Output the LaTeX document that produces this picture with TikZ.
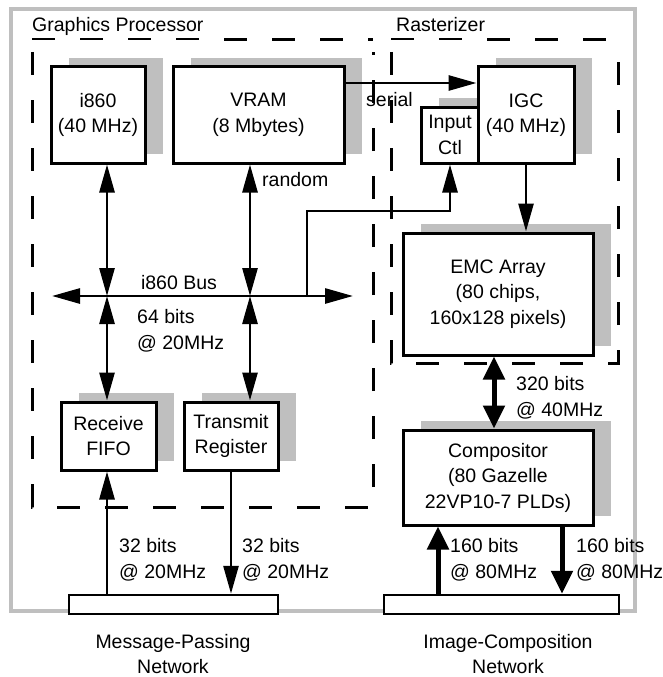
\documentclass[tikz,border=0pt]{standalone}
\usepackage{fontspec}
\setmainfont{Liberation Sans}
\usetikzlibrary{arrows.meta,shadows}
\begin{document}
\begin{tikzpicture}[x=1pt,y=-1pt,
  every node/.style={font=\fontsize{19.5}{25.5}\selectfont},
  box/.style={draw, line width=3pt, fill=white, align=center, inner sep=0pt,
     drop shadow={shadow xshift=18pt, shadow yshift=9pt, fill=black!25, opacity=1, draw=none}},
  netbar/.style={draw, line width=2.5pt, fill=white, inner sep=0pt},
  frame/.style={draw=black!25, line width=4pt},
  group/.style={line width=3pt, dash pattern=on 23pt off 25pt},
  grouplabel/.style={inner sep=0pt, anchor=base west},
  lbl/.style={align=left, inner sep=0pt, anchor=west},
  arr/.style={line width=2.7pt, -{Triangle[length=28pt,width=15pt]}},
  dbl/.style={line width=2.7pt, {Triangle[length=28pt,width=15pt]}-{Triangle[length=28pt,width=15pt]}},
  fatarr/.style={line width=5pt, -{Triangle[length=23pt,width=21pt]}},
  fatdbl/.style={line width=5pt, {Triangle[length=23pt,width=21pt]}-{Triangle[length=23pt,width=21pt]}},
]
\useasboundingbox (0,0) rectangle (662,677);
% outer frame
\draw[frame] (11,9) rectangle (635,611);
% group boxes
\draw[group] (32,40) -- (373,40);
\draw[group] (32,52) -- (32,507) -- (373,507) -- (373,52);
\draw[group] (391,40) -- (618,40);
\draw[group] (391,52) -- (391,363) -- (618,363) -- (618,52);
\node[grouplabel] (gplbl) at (32,32) {Graphics Processor};
\node[grouplabel] (rzlbl) at (396,32) {Rasterizer};
\fill[white] (30,39.9) rectangle (gplbl.east |- 0,42.5);
\fill[white] (389,39.9) rectangle (rzlbl.east |- 0,42.5);

% blocks
\node[box, minimum width=94pt, minimum height=96pt] (i860) at (98,115) {i860\\(40 MHz)};
\node[box, minimum width=171pt, minimum height=96pt] (vram) at (258.5,115) {VRAM\\(8 Mbytes)};
\node[box, minimum width=58pt, minimum height=56pt] (inctl) at (450,135) {Input\\Ctl};
\node[box, minimum width=96pt, minimum height=96pt] (igc) at (526,115) {IGC\\(40 MHz)};
\node[box, minimum width=190pt, minimum height=122pt] (emc) at (498,294) {EMC Array\\(80 chips,\\160x128 pixels)};
\node[box, minimum width=190pt, minimum height=95pt] (comp) at (498,477.5) {Compositor\\(80 Gazelle\\22VP10-7 PLDs)};
\node[box, minimum width=95pt, minimum height=68pt] (fifo) at (108.5,436) {Receive\\FIFO};
\node[box, minimum width=94pt, minimum height=68pt] (trans) at (231,436) {Transmit\\Register};
\node[netbar, minimum width=209pt, minimum height=19pt] (mpn) at (173.5,604.5) {};
\node[netbar, minimum width=235pt, minimum height=19pt] (icn) at (501.5,604.5) {};
\node[align=center, inner sep=0pt] (mpnlbl) at (173,654) {Message-Passing\\Network};
\node[align=center, inner sep=0pt] (icnlbl) at (508,654) {Image-Composition\\Network};

% bus
\coordinate (busL) at (52,296);
\coordinate (busR) at (353,296);
\coordinate (b1) at (107,296);
\coordinate (b2) at (250,296);
\coordinate (b3) at (307,296);
\coordinate (turn) at (307,211);
\coordinate (ser) at (345,83);
\coordinate (t1) at (494,0);
\coordinate (c1) at (438,0);
\coordinate (c2) at (562,0);

\draw[dbl] (busL) -- (busR);
\node[inner sep=0pt] (buslbl) at (179,283) {i860 Bus};
\draw[dbl] (i860.south -| b1) -- (b1);
\draw[dbl] (b1) -- (fifo.north -| b1);
\draw[dbl] (vram.south -| b2) -- (b2);
\draw[dbl] (b2) -- (trans.north -| b2);
\draw[arr] (b3) -- (turn) -| (inctl.south);
\draw[arr] (ser -| vram.east) -- (ser -| igc.west);
\draw[arr] (igc.south) -- (igc.south |- emc.north);
\draw[fatdbl] (emc.south -| t1) -- (comp.north -| t1);
\draw[arr] (mpn.north -| b1) -- (fifo.south -| b1);
\draw[arr] (trans.south) -- (trans.south |- mpn.north);
\draw[fatarr] (icn.north -| c1) -- (comp.south -| c1);
\draw[fatarr] (comp.south -| c2) -- (icn.north -| c2);

% labels
\node[lbl] (serlbl) at (366,100) {serial};
\node[lbl] (rndlbl) at (262,180) {random};
\node[lbl] (l64) at (137,331) {64 bits\\@ 20MHz};
\node[lbl] (l320) at (516,398) {320 bits\\@ 40MHz};
\node[lbl] (l32a) at (119,560) {32 bits\\@ 20MHz};
\node[lbl] (l32b) at (242,560) {32 bits\\@ 20MHz};
\node[lbl] (l160a) at (450,560) {160 bits\\@ 80MHz};
\node[lbl] (l160b) at (576,560) {160 bits\\@ 80MHz};
\end{tikzpicture}
\end{document}
